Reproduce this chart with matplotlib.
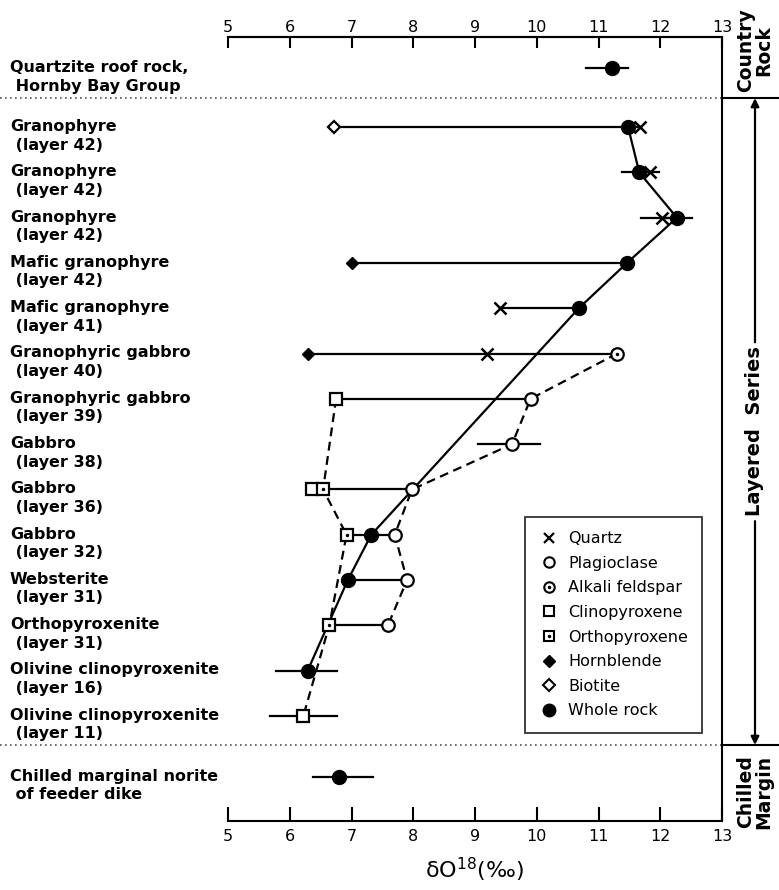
import numpy as np
import matplotlib.pyplot as plt
from matplotlib.lines import Line2D
from matplotlib.transforms import blended_transform_factory

# muestras de arriba hacia abajo (serie estratificada)
muestras = ['Granophyre\n (layer 42)', 'Granophyre\n (layer 42)', 'Granophyre\n (layer 42)',
            'Mafic granophyre\n (layer 42)', 'Mafic granophyre\n (layer 41)',
            'Granophyric gabbro\n (layer 40)', 'Granophyric gabbro\n (layer 39)',
            'Gabbro\n (layer 38)', 'Gabbro\n (layer 36)', 'Gabbro\n (layer 32)',
            'Websterite\n (layer 31)', 'Orthopyroxenite\n (layer 31)',
            'Olivine clinopyroxenite\n (layer 16)', 'Olivine clinopyroxenite\n (layer 11)']
caja_txt = 'Quartzite roof rock,\n Hornby Bay Group'
borde_txt = 'Chilled marginal norite\n of feeder dike'

# valores de delta O18 por mineral (fila, valor)
cuarzo_fila = [0, 1, 2, 4, 5]
cuarzo = [11.67, 11.83, 12.03, 9.40, 9.19]
plag_fila = [6, 7, 8, 9, 10, 11]
plag = [9.90, 9.60, 7.98, 7.70, 7.90, 7.59]
feldk_fila = [5]
feldk = [11.30]
cpx_fila = [6, 8, 13]
cpx = [6.75, 6.36, 6.22]
opx_fila = [8, 9, 11]
opx = [6.54, 6.92, 6.64]
hbl_fila = [3, 5]
hbl = [7.00, 6.30]
bio_fila = [0]
bio = [6.72]
roca_fila = [0, 1, 2, 3, 4, 9, 10, 12]
roca = [11.48, 11.66, 12.27, 11.46, 10.68, 7.32, 6.94, 6.29]

# roca de caja y borde enfriado (roca total)
caja = 11.22
caja_err = [10.80, 11.48]
borde = 6.80
borde_err = [6.38, 7.35]

# barras de error (fila, min, max)
err_fila = [1, 2, 7, 12, 13]
err_min = [11.38, 11.69, 9.05, 5.78, 5.68]
err_max = [11.98, 12.51, 10.05, 6.77, 6.77]

# tendencias discontinuas: feldespatos y piroxenos
tend_fel_fila = feldk_fila + plag_fila
tend_fel = feldk + plag
tend_px_fila = [cpx_fila[0], opx_fila[0], opx_fila[1], opx_fila[2], cpx_fila[2]]
tend_px = [cpx[0], opx[0], opx[1], opx[2], cpx[2]]

y_caja = -1.30
y_borde = 14.35
y_sep1 = -0.64
y_sep2 = 13.64

fig = plt.figure(figsize=(7.79, 8.90), dpi=100)
ax = fig.add_axes([228/779, 1-821/890, 494/779, 784/890])
ax.set_xlim(5, 13)
ax.set_ylim(15.32, -1.99)

# lineas horizontales de cada muestra (del minimo al maximo)
series = [(cuarzo_fila, cuarzo), (plag_fila, plag), (feldk_fila, feldk), (cpx_fila, cpx),
          (opx_fila, opx), (hbl_fila, hbl), (bio_fila, bio), (roca_fila, roca)]
for i in range(len(muestras)):
    vals = [v for filas, vs in series for f, v in zip(filas, vs) if f == i]
    if len(vals) > 1:
        ax.plot([min(vals), max(vals)], [i, i], 'k-', lw=1.6, zorder=2)

# barras de error
for f, a, b in zip(err_fila, err_min, err_max):
    ax.plot([a, b], [f, f], 'k-', lw=1.6, zorder=2)
ax.plot(caja_err, [y_caja, y_caja], 'k-', lw=1.6)
ax.plot(borde_err, [y_borde, y_borde], 'k-', lw=1.6)

# tendencias
ax.plot(roca, roca_fila, 'k-', lw=1.6, zorder=2)
ax.plot(tend_fel, tend_fel_fila, 'k--', lw=1.6, dashes=(4, 2.5), zorder=2)
ax.plot(tend_px, tend_px_fila, 'k--', lw=1.6, dashes=(4, 2.5), zorder=2)

# simbolos
ax.plot(cuarzo, cuarzo_fila, 'kx', ms=8, mew=1.8, zorder=4)
ax.plot(plag, plag_fila, 'o', mfc='white', mec='k', ms=9, mew=1.6, zorder=4)
ax.plot(feldk, feldk_fila, 'o', mfc='white', mec='k', ms=9, mew=1.6, zorder=4)
ax.plot(feldk, feldk_fila, 'k.', ms=3, zorder=5)
ax.plot(cpx, cpx_fila, 's', mfc='white', mec='k', ms=8.5, mew=1.6, zorder=4)
ax.plot(opx, opx_fila, 's', mfc='white', mec='k', ms=8.5, mew=1.6, zorder=4)
ax.plot(opx, opx_fila, 'k.', ms=3, zorder=5)
ax.plot(hbl, hbl_fila, 'kD', ms=6.5, zorder=4)
ax.plot(bio, bio_fila, 'D', mfc='white', mec='k', ms=6.5, mew=1.6, zorder=4)
ax.plot(roca, roca_fila, 'ko', ms=10, zorder=4)
ax.plot([caja], [y_caja], 'ko', ms=10, zorder=4)
ax.plot([borde], [y_borde], 'ko', ms=10, zorder=4)

# ejes (abajo y arriba)
ax.spines['left'].set_visible(False)
for s in ['top', 'right', 'bottom']:
    ax.spines[s].set_linewidth(1.5)
ax.set_yticks([])
ax.set_xticks(range(5, 14))
ax.tick_params(axis='x', direction='in', length=10, width=1.5, pad=6, labelsize=11.5)
sec = ax.secondary_xaxis('top')
sec.set_xticks(range(5, 14))
sec.tick_params(axis='x', direction='in', length=8, width=1.5, pad=1.5, labelsize=11.5)
sec.spines['top'].set_linewidth(1.5)
ax.set_xlabel('δO$^{18}$(‰)', fontsize=16, labelpad=8)

# separadores punteados
trans_y = ax.get_yaxis_transform()
for y in [y_sep1, y_sep2]:
    ax.plot([-228/494, 1], [y, y], color='#555555', lw=1.2, ls=(0, (1, 2)),
            transform=trans_y, clip_on=False)
    ax.plot([1, 551/494], [y, y], 'k-', lw=1.5, transform=trans_y, clip_on=False)

# etiquetas de las muestras
trans = blended_transform_factory(fig.transFigure, ax.transData)
for i, m in enumerate(muestras):
    ax.text(10/779, i + 0.19, m, transform=trans, fontsize=11.5, fontweight='bold',
            va='center', linespacing=1.3)
ax.text(10/779, y_caja + 0.19, caja_txt, transform=trans, fontsize=11.5, fontweight='bold',
        va='center', linespacing=1.3)
ax.text(10/779, y_borde + 0.19, borde_txt, transform=trans, fontsize=11.5, fontweight='bold',
        va='center', linespacing=1.3)

# rotulos de la derecha
xa = 527/494
ax.text(xa, -1.70, 'Country\nRock', transform=trans_y, rotation=90, fontsize=13.5,
        fontweight='bold', ha='center', va='center', linespacing=0.95, clip_on=False)
ax.text(xa, 14.68, 'Chilled\nMargin', transform=trans_y, rotation=90, fontsize=13.5,
        fontweight='bold', ha='center', va='center', linespacing=0.95, clip_on=False)
ax.text(xa, 6.72, 'Layered  Series', transform=trans_y, rotation=90, fontsize=14,
        fontweight='bold', ha='center', va='center', clip_on=False)
flecha = dict(arrowstyle='-|>', lw=1.6, color='k', mutation_scale=12, shrinkA=0, shrinkB=0)
ax.annotate('', xy=(xa, y_sep1), xytext=(xa, 4.75), xycoords=trans_y, textcoords=trans_y,
            arrowprops=flecha, annotation_clip=False)
ax.annotate('', xy=(xa, y_sep2), xytext=(xa, 8.7), xycoords=trans_y, textcoords=trans_y,
            arrowprops=flecha, annotation_clip=False)

# leyenda
h_qz = Line2D([], [], ls='', marker='x', color='k', ms=7, mew=1.6)
h_pl = Line2D([], [], ls='', marker='o', mfc='white', mec='k', ms=7.5, mew=1.5)
h_dot = Line2D([], [], ls='', marker='.', color='k', ms=3)
h_cpx = Line2D([], [], ls='', marker='s', mfc='white', mec='k', ms=7.5, mew=1.5)
h_hbl = Line2D([], [], ls='', marker='D', color='k', ms=6)
h_bio = Line2D([], [], ls='', marker='D', mfc='white', mec='k', ms=6, mew=1.5)
h_wr = Line2D([], [], ls='', marker='o', color='k', ms=9)
nombres = ['Quartz', 'Plagioclase', 'Alkali feldspar', 'Clinopyroxene', 'Orthopyroxene',
           'Hornblende', 'Biotite', 'Whole rock']
leg = ax.legend([h_qz, h_pl, (h_pl, h_dot), h_cpx, (h_cpx, h_dot), h_hbl, h_bio, h_wr],
                nombres, loc='upper left', bbox_to_anchor=(0.601, 0.388), fontsize=11.5,
                frameon=True, fancybox=False, edgecolor='k', handlelength=1.2,
                handletextpad=0.6, labelspacing=0.6, borderpad=0.9, borderaxespad=0)
leg.get_frame().set_linewidth(1.3)

fig.savefig('out.png', dpi=100, facecolor='white')
